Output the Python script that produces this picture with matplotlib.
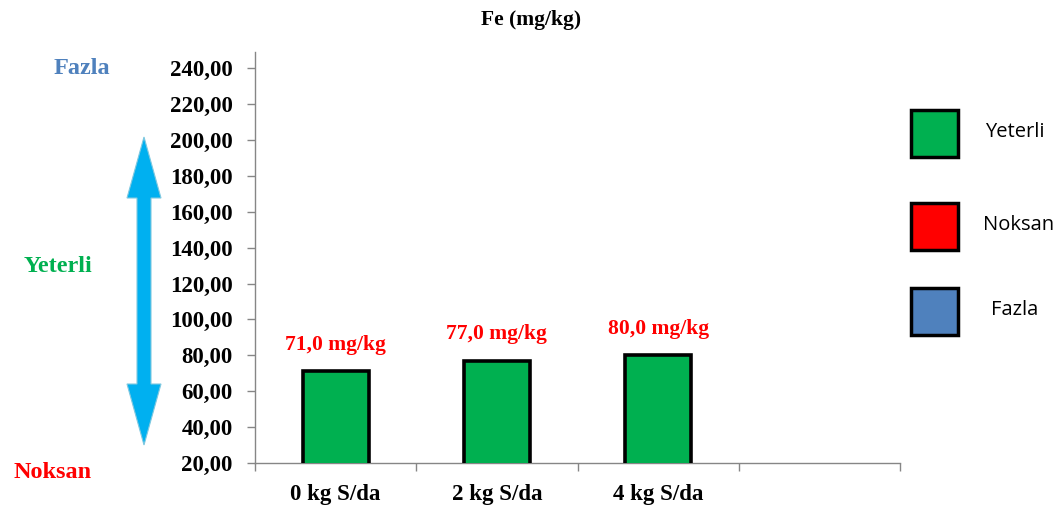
import matplotlib
matplotlib.use("Agg")
import matplotlib.pyplot as plt
from matplotlib.patches import Polygon, Rectangle
from matplotlib.ticker import FixedLocator, FuncFormatter

# Fe content per sulphur dose
doses = ["0 kg S/da", "2 kg S/da", "4 kg S/da"]
fe_values = [71.0, 77.0, 80.0]
y_ticks = [20, 40, 60, 80, 100, 120, 140, 160, 180, 200, 220, 240]

# sufficiency classes (legend)
levels = ["Yeterli", "Noksan", "Fazla"]
level_colors = ["#00B050", "#FF0000", "#4F81BD"]

W, H = 1059, 508
serif = "Liberation Serif"

fig = plt.figure(figsize=(W / 100, H / 100), dpi=100)
ax = fig.add_axes([255 / W, 1 - 463 / H, 645 / W, 411 / H])

x = list(range(len(doses)))
ax.bar(x, fe_values, width=0.41, bottom=0, color=level_colors[0],
       edgecolor="black", linewidth=2.6, zorder=3)

for xi, v in zip(x, fe_values):
    ax.annotate(f"{v:.1f} mg/kg".replace(".", ","), (xi, v), xytext=(0, 19),
                textcoords="offset points", ha="center", va="center",
                color="#FF0000", fontsize=15.5, fontweight="bold", family=serif)

ax.set_xlim(-0.5, 3.5)
ax.set_ylim(20, 249)
ax.set_yticks(y_ticks)
ax.yaxis.set_major_formatter(FuncFormatter(lambda v, p: f"{v:.2f}".replace(".", ",")))
ax.set_xticks(x)
ax.set_xticklabels(doses)
ax.xaxis.set_minor_locator(FixedLocator([-0.5, 0.5, 1.5, 2.5, 3.5]))
ax.tick_params(axis="x", which="major", length=0, pad=15)
ax.tick_params(axis="x", which="minor", length=6, width=1, color="#868686", direction="out")
ax.tick_params(axis="y", length=6, width=1, color="#868686", direction="out", pad=10)
for lab in ax.get_xticklabels() + ax.get_yticklabels():
    lab.set_fontfamily(serif)
    lab.set_fontweight("bold")
    lab.set_fontsize(16.5)

for side in ["top", "right"]:
    ax.spines[side].set_visible(False)
for side in ["left", "bottom"]:
    ax.spines[side].set_color("#868686")
    ax.spines[side].set_linewidth(1)

fig.text(531 / W, 1 - 20 / H, "Fe (mg/kg)", ha="center", va="center",
         fontsize=15.5, fontweight="bold", family=serif)

# overlay in pixel coordinates for the side decorations
ov = fig.add_axes([0, 0, 1, 1])
ov.set_xlim(0, W)
ov.set_ylim(H, 0)
ov.axis("off")
ov.patch.set_visible(False)

# double headed arrow
cx, top, bot, sw, hw, hl = 144, 137, 445, 7, 17, 61
arrow = [(cx, top), (cx + hw, top + hl), (cx + sw, top + hl), (cx + sw, bot - hl),
         (cx + hw, bot - hl), (cx, bot), (cx - hw, bot - hl), (cx - sw, bot - hl),
         (cx - sw, top + hl), (cx - hw, top + hl)]
ov.add_patch(Polygon(arrow, closed=True, facecolor="#00B0F0", edgecolor="#7FC8E0", linewidth=0.8))

# class names beside the scale
ov.text(82, 69, "Fazla", color=level_colors[2], ha="center", va="center",
        fontsize=17.5, fontweight="bold", family=serif)
ov.text(58, 267, "Yeterli", color=level_colors[0], ha="center", va="center",
        fontsize=17.5, fontweight="bold", family=serif)
ov.text(53, 472, "Noksan", color=level_colors[1], ha="center", va="center",
        fontsize=17.5, fontweight="bold", family=serif)

# legend boxes
box_y = [110, 203, 288]
text_x = [1015, 1019, 1015]
for lab, col, by, tx in zip(levels, level_colors, box_y, text_x):
    ov.add_patch(Rectangle((911, by), 47, 47, facecolor=col, edgecolor="black", linewidth=2.5))
    ov.text(tx, by + 22, lab, ha="center", va="center", fontsize=14.5, family="Open Sans")

fig.savefig("out.png", dpi=100)
